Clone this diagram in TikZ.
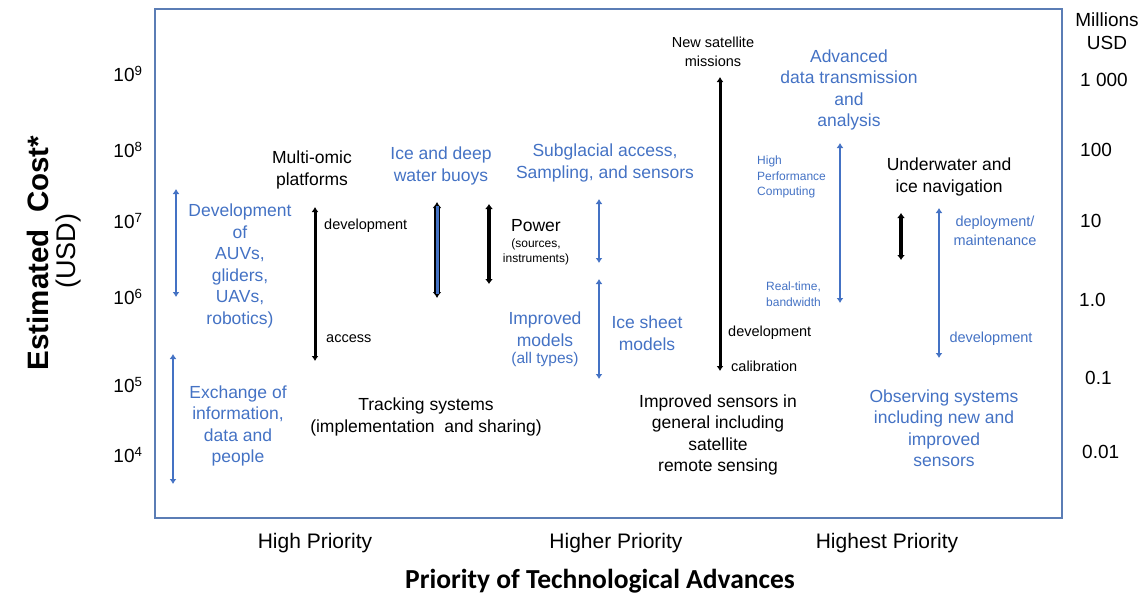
\documentclass[tikz,border=0pt]{standalone}
\usepackage{fontspec}
\setmainfont{Liberation Sans}
\newfontfamily\calibri{Carlito}
\usetikzlibrary{arrows.meta}
\definecolor{framecol}{HTML}{5B7DB5}
\definecolor{txtblue}{HTML}{4472C4}

\begin{document}
\begin{tikzpicture}[x=1pt,y=-1pt,>={Latex[length=5pt,width=7pt]},
  big/.style = {font=\fontsize{17.5}{21.5}\selectfont, align=center, inner sep=0pt},
  small/.style = {font=\fontsize{14.5}{18.5}\selectfont, align=left, inner sep=0pt},
  tiny/.style = {font=\fontsize{12}{15.5}\selectfont, align=left, inner sep=0pt},
  blu/.style = {text=txtblue},
  axis/.style = {font=\fontsize{19}{23}\selectfont, inner sep=0pt},
  prio/.style = {font=\fontsize{21}{25}\selectfont, inner sep=0pt},
  barr/.style = {<->, draw=txtblue, line width=2.6pt},
  karr/.style = {<->, line width=3pt}]

\useasboundingbox (0,0) rectangle (1147,602);
\draw[framecol, line width=2.5pt] (155,9) rectangle (1062,518);

% cost axes
\node[rotate=90, font=\fontsize{29.5}{33}\selectfont\bfseries] (ytitle) at (38,253) {Estimated\ \ Cost*};
\node[rotate=90, font=\fontsize{27}{30}\selectfont] (yunit) at (69,251) {(USD)};
\node[axis] (e9) at (128,74) {10\textsuperscript{9}};
\node[axis] (e8) at (128,150) {10\textsuperscript{8}};
\node[axis] (e7) at (128,221) {10\textsuperscript{7}};
\node[axis] (e6) at (128,297) {10\textsuperscript{6}};
\node[axis] (e5) at (128,385) {10\textsuperscript{5}};
\node[axis] (e4) at (128,455) {10\textsuperscript{4}};

\node[axis, align=center] (mil) at (1107,31) {Millions\\USD};
\node[axis, anchor=west] (m3) at (1080,80) {1 000};
\node[axis, anchor=west] (m2) at (1080,150) {100};
\node[axis, anchor=west] (m1) at (1080,221) {10};
\node[axis, anchor=west] (m0) at (1079,300) {1.0};
\node[axis, anchor=west] (mm1) at (1085,378) {0.1};
\node[axis, anchor=west] (mm2) at (1082,452) {0.01};

% priority axis
\node[prio] (high) at (315,543) {High Priority};
\node[prio] (higher) at (616,543) {Higher Priority};
\node[prio] (highest) at (887,543) {Highest Priority};
\node[font=\calibri\bfseries\fontsize{27.5}{31}\selectfont] (xtitle) at (600,581) {Priority of Technological Advances};

% high priority
\node[big, blu] (auv) at (240,266) {Development\\of\\AUVs,\\gliders,\\UAVs,\\robotics)};
\node[big, blu] (exch) at (238,426) {Exchange of\\information,\\data and\\people};
\node[big] (omic) at (312,170) {Multi-omic\\platforms};
\node[small, anchor=west] (odev) at (324,226) {development};
\node[small, anchor=west] (oacc) at (326,339) {access};
\node[big, blu] (buoy) at (441,166) {Ice and deep\\water buoys};
\node[big] (power) at (536,226) {Power};
\node[tiny, align=center] (psrc) at (536,252) {(sources,\\instruments)};
\node[big] (track) at (426,417) {Tracking systems\\(implementation\ \ and sharing)};

% higher priority
\node[big, blu] (subg) at (605,163) {Subglacial access,\\Sampling, and sensors};
\node[big, blu] (impm) at (545,329) {Improved\\models};
\node[font=\fontsize{15.5}{19}\selectfont, blu, inner sep=0pt] (allt) at (545,359) {(all types)};
\node[big, blu] (isheet) at (647,333) {Ice sheet\\models};
\node[small, align=center] (newsat) at (713,52) {New satellite\\missions};
\node[small, anchor=west] (sdev) at (728,333) {development};
\node[small, anchor=west] (scal) at (731,366) {calibration};
\node[big] (isens) at (718,435) {Improved sensors in\\general including\\satellite\\remote sensing};

% highest priority
\node[big, blu] (adv) at (849,90) {Advanced\\data transmission\\and\\analysis};
\node[tiny, blu, anchor=west] (hpc) at (757,177) {High\\Performance\\Computing};
\node[tiny, blu, anchor=west] (rtime) at (766,294) {Real-time,\\bandwidth};
\node[big] (nav) at (949,177) {Underwater and\\ice navigation};
\node[small, blu, align=center] (deploy) at (995,231) {deployment/\\maintenance};
\node[small, blu] (ndev) at (991,339) {development};
\node[big, blu] (obs) at (944,428) {Observing systems\\including new and\\improved\\sensors};

% cost ranges
\coordinate (auvt) at (176,189);  \coordinate (auvb) at (176,297);
\coordinate (exct) at (173,354);  \coordinate (excb) at (173,484);
\coordinate (omit) at (315,207);  \coordinate (omib) at (315,361);
\coordinate (buot) at (437,202);  \coordinate (buob) at (437,298);
\coordinate (powt) at (489,204);  \coordinate (powb) at (489,284);
\coordinate (subt) at (599,199);  \coordinate (subb) at (599,263);
\coordinate (modt) at (599,279);  \coordinate (modb) at (599,379);
\coordinate (satt) at (720,77);   \coordinate (satb) at (720,371);
\coordinate (advt) at (840,143);  \coordinate (advb) at (840,303);
\coordinate (navt) at (901,213);  \coordinate (navb) at (901,260);
\coordinate (dept) at (939,208);  \coordinate (depb) at (939,358);

\draw[barr] (auvt) -- (auvb);
\draw[barr] (exct) -- (excb);
\draw[karr] (omit) -- (omib);
\draw[<->, line width=5.5pt, >={Latex[length=6pt,width=9pt]}] (buot) -- (buob);
\draw[txtblue, line width=3pt, shorten <=4pt, shorten >=4pt] (buot) -- (buob);
\draw[karr, line width=4pt, >={Latex[length=5pt,width=8pt]}] (powt) -- (powb);
\draw[barr] (subt) -- (subb);
\draw[barr] (modt) -- (modb);
\draw[karr] (satt) -- (satb);
\draw[barr] (advt) -- (advb);
\draw[karr, line width=4pt, >={Latex[length=5pt,width=8pt]}] (navt) -- (navb);
\draw[barr] (dept) -- (depb);

\end{tikzpicture}
\end{document}
